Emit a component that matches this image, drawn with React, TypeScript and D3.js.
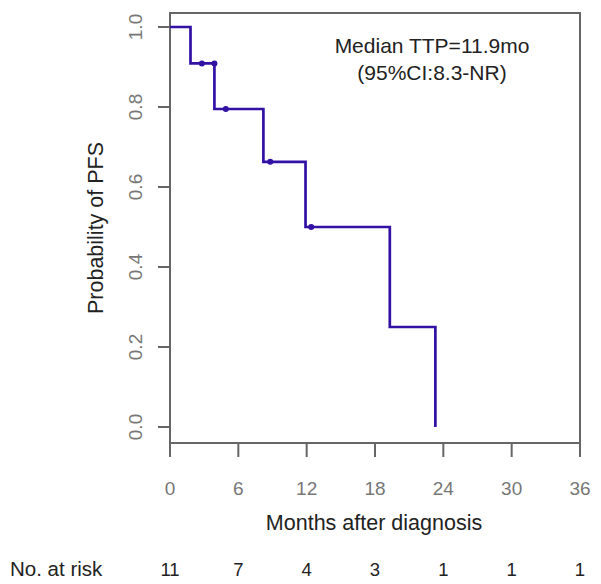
import React from "react";
import * as d3 from "d3";

const eventTimes = [0, 1.8, 3.9, 8.2, 11.9, 19.3, 23.3];
const survival = [1, 0.909, 0.795, 0.663, 0.5, 0.25, 0];
const censorTimes = [2.8, 3.9, 4.9, 8.8, 12.4];
const censorSurv = [0.909, 0.909, 0.795, 0.663, 0.5];
const xTicks = [0, 6, 12, 18, 24, 30, 36];
const yTicks = [0, 0.2, 0.4, 0.6, 0.8, 1.0];
const atRisk = [11, 7, 4, 3, 1, 1, 1];

const W = 601, H = 584;
const left = 170, right = 580, top = 13, bottom = 443;

export default function App() {
  const x = d3.scaleLinear().domain([0, 36]).range([left, right]);
  const y = d3.scaleLinear().domain([-0.04, 1.035]).range([bottom, top]);
  const pts: [number, number][] = eventTimes.map((t, i) => [t, survival[i]]);
  const line = d3
    .line<[number, number]>()
    .x((d) => x(d[0]))
    .y((d) => y(d[1]))
    .curve(d3.curveStepAfter);
  const font = "Liberation Sans, Arial, sans-serif";
  const lineColor = "#3311a5";
  return (
    <svg
      width={W}
      height={H}
      style={{ position: "absolute", left: 0, top: 0, background: "#fff" }}
      fontFamily={font}
    >
      <rect x={0} y={0} width={W} height={H} fill="#fff" />
      <rect x={left} y={top} width={right - left} height={bottom - top} fill="none" stroke="#666" strokeWidth={2} />
      {yTicks.map((t) => (
        <g key={"y" + t}>
          <line x1={158} x2={left} y1={y(t)} y2={y(t)} stroke="#666" strokeWidth={2} />
          <text
            transform={`translate(${142},${y(t)}) rotate(-90)`}
            textAnchor="middle"
            fontSize={19}
            fill="#777"
          >
            {t.toFixed(1)}
          </text>
        </g>
      ))}
      {xTicks.map((t, i) => (
        <g key={"x" + t}>
          <line x1={x(t)} x2={x(t)} y1={bottom} y2={457} stroke="#666" strokeWidth={2} />
          <text x={x(t)} y={495} textAnchor="middle" fontSize={19} fill="#777">
            {t}
          </text>
          <text x={x(t)} y={576} textAnchor="middle" fontSize={18.5} fill="#222">
            {atRisk[i]}
          </text>
        </g>
      ))}
      <text x={374} y={530} textAnchor="middle" fontSize={21.5} fill="#222">
        Months after diagnosis
      </text>
      <text transform={`translate(103,228) rotate(-90)`} textAnchor="middle" fontSize={21.5} fill="#222">
        Probability of PFS
      </text>
      <text x={10} y={576} fontSize={20.5} fill="#222">
        No. at risk
      </text>
      <text x={432} y={53} textAnchor="middle" fontSize={21} fill="#222">
        Median TTP=11.9mo
      </text>
      <text x={432} y={80} textAnchor="middle" fontSize={21} fill="#222">
        (95%CI:8.3-NR)
      </text>
      <path d={line(pts) || ""} fill="none" stroke={lineColor} strokeWidth={2.7} />
      {censorTimes.map((t, i) => (
        <circle key={"c" + i} cx={x(t)} cy={y(censorSurv[i])} r={3} fill={lineColor} />
      ))}
    </svg>
  );
}
